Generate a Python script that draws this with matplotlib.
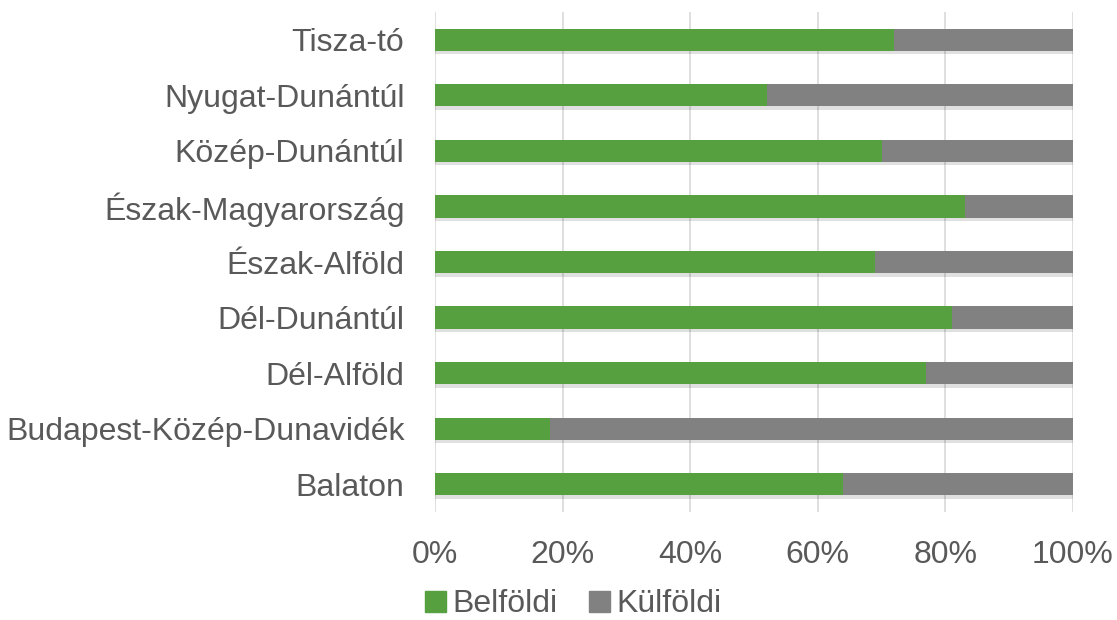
import matplotlib.pyplot as plt
import matplotlib.patheffects as pe
from matplotlib.patches import Patch
from matplotlib.ticker import PercentFormatter

# regions, bottom to top as drawn
regions = ['Balaton', 'Budapest-Közép-Dunavidék', 'Dél-Alföld', 'Dél-Dunántúl',
           'Észak-Alföld', 'Észak-Magyarország', 'Közép-Dunántúl',
           'Nyugat-Dunántúl', 'Tisza-tó']
belfoldi = [64, 18, 77, 81, 69, 83, 70, 52, 72]
kulfoldi = [100 - v for v in belfoldi]

green = '#56a03f'
grey = '#818181'
txt = '#595959'

plt.rcParams['font.family'] = ['Liberation Sans', 'DejaVu Sans']

fig = plt.figure(figsize=(11.17, 6.2), dpi=100)
ax = fig.add_axes([0.3894, 0.1742, 0.5712, 0.8064])

shadow = [pe.SimplePatchShadow(offset=(0, -2.5), shadow_rgbFace='#000000', alpha=0.12), pe.Normal()]

b1 = ax.barh(regions, belfoldi, height=0.4, color=green, zorder=3)
b2 = ax.barh(regions, kulfoldi, left=belfoldi, height=0.4, color=grey, zorder=3)
for bar in list(b1) + list(b2):
    bar.set_path_effects(shadow)

ax.set_xlim(0, 100)
ax.set_ylim(-0.5, len(regions) - 0.5)
ax.set_xticks([0, 20, 40, 60, 80, 100])
ax.xaxis.set_major_formatter(PercentFormatter(decimals=0))
ax.grid(axis='x', color='#d9d9d9', linewidth=1.2, zorder=0)
ax.set_axisbelow(True)
for s in ax.spines.values():
    s.set_visible(False)
ax.tick_params(axis='both', length=0, labelsize=23, colors=txt)
ax.tick_params(axis='y', pad=22)
ax.tick_params(axis='x', pad=20)

handles = [Patch(color=green, label='Belföldi'), Patch(color=grey, label='Külföldi')]
leg = fig.legend(handles=handles, loc='center', bbox_to_anchor=(0.513, 0.025),
                 ncol=2, frameon=False, fontsize=23, handlelength=0.65, handleheight=0.65,
                 handletextpad=0.2, columnspacing=1.0)
for t in leg.get_texts():
    t.set_color(txt)

fig.savefig('out.png', dpi=100)
